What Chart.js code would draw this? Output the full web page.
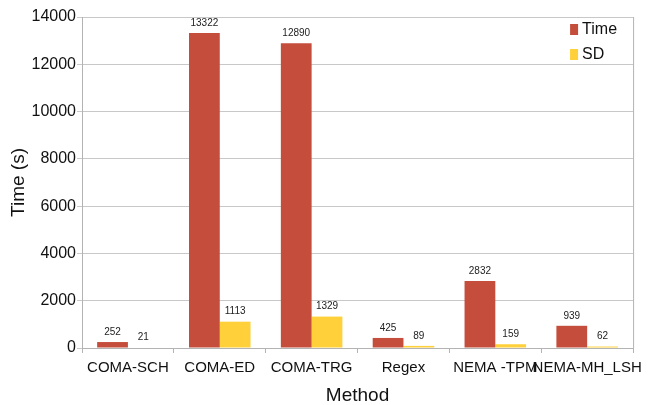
<!DOCTYPE html>
<html>
<head>
<meta charset="utf-8">
<script src="https://cdn.jsdelivr.net/npm/chart.js@4"></script>
<style>
  body { margin: 0; background: #fff; }
  #wrap { width: 649px; height: 405px; }
</style>
</head>
<body>
<div id="wrap"><canvas id="chart" width="649" height="405"></canvas></div>
<script>
// values
var methods = ["COMA-SCH", "COMA-ED", "COMA-TRG", "Regex", "NEMA -TPM", "NEMA-MH_LSH"];
var timeVals = [252, 13322, 12890, 425, 2832, 939];
var sdVals = [21, 1113, 1329, 89, 159, 62];
var yTicks = [0, 2000, 4000, 6000, 8000, 10000, 12000, 14000];

var FONT = "'Liberation Sans', Arial, sans-serif";

// numbers above every bar
const barLabels = {
  id: "barLabels",
  afterDatasetsDraw(chart) {
    var ctx = chart.ctx;
    ctx.save();
    ctx.font = "10px " + FONT;
    ctx.fillStyle = "#222";
    ctx.textAlign = "center";
    ctx.textBaseline = "bottom";
    chart.data.datasets.forEach((ds, i) => {
      chart.getDatasetMeta(i).data.forEach((bar, j) => {
        ctx.fillText(ds.data[j], bar.x, bar.y - 5);
      });
    });
    ctx.restore();
  }
};

// legend inside top right + right border line
const insideLegend = {
  id: "insideLegend",
  afterDraw(chart) {
    var ctx = chart.ctx;
    var a = chart.chartArea;
    ctx.save();
    ctx.strokeStyle = "#b3b3b3";
    ctx.lineWidth = 1;
    ctx.beginPath();
    ctx.moveTo(a.right + 0.5, a.top);
    ctx.lineTo(a.right + 0.5, a.bottom);
    ctx.stroke();

    ctx.font = "16px " + FONT;
    ctx.textBaseline = "middle";
    ctx.textAlign = "left";
    chart.data.datasets.forEach((ds, i) => {
      var y = a.top + 13 + i * 25;
      var x = a.right - 63;
      ctx.fillStyle = ds.backgroundColor;
      ctx.fillRect(x, y - 6, 8, 11);
      ctx.fillStyle = "#111";
      ctx.fillText(ds.label, x + 12, y);
    });
    ctx.restore();
  }
};

new Chart(document.getElementById("chart").getContext("2d"), {
  type: "bar",
  data: {
    labels: methods,
    datasets: [
      { label: "Time", data: timeVals, backgroundColor: "#c44e3b",
        categoryPercentage: 0.67, barPercentage: 1.0 },
      { label: "SD", data: sdVals, backgroundColor: "#ffd039",
        categoryPercentage: 0.67, barPercentage: 1.0 }
    ]
  },
  options: {
    responsive: false,
    animation: false,
    layout: { padding: { top: 17, right: 15, left: 0, bottom: 0 } },
    plugins: {
      legend: { display: false },
      tooltip: { enabled: false }
    },
    scales: {
      x: {
        grid: { drawOnChartArea: false, tickLength: 5, color: "#b3b3b3" },
        border: { color: "#b3b3b3" },
        ticks: { font: { family: FONT, size: 15 }, color: "#111", padding: 6, maxRotation: 0, autoSkip: false },
        title: { display: true, text: "Method", font: { family: FONT, size: 19 }, color: "#111", padding: { top: 0, bottom: -2 } },
        afterFit: function (s) { s.height = 57; }
      },
      y: {
        min: 0, max: 14000,
        afterBuildTicks: function (s) { s.ticks = yTicks.map(v => ({ value: v })); },
        grid: { color: "#c8c8c8", tickLength: 5 },
        border: { color: "#b3b3b3" },
        ticks: { font: { family: FONT, size: 16 }, color: "#111", padding: 1, callback: v => String(v) },
        title: { display: true, text: "Time (s)", font: { family: FONT, size: 19 }, color: "#111", padding: 7 },
        afterFit: function (s) { s.width = 82; }
      }
    }
  },
  plugins: [barLabels, insideLegend]
});
</script>
</body>
</html>
